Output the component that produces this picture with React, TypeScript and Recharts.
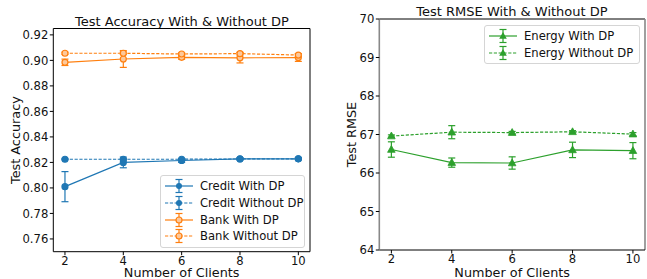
import React from 'react';
import { LineChart, Line, XAxis, YAxis, ErrorBar, Legend, ReferenceLine } from 'recharts';

const clients = [2, 4, 6, 8, 10];

const creditWithDP = [0.801, 0.82, 0.8215, 0.8228, 0.8228];
const creditWithDPErr = [0.0118, 0.0042, 0.0015, 0.0008, 0.0008];
const creditWithoutDP = [0.8225, 0.8225, 0.8225, 0.8227, 0.8228];
const creditWithoutDPErr = [0.0004, 0.0004, 0.0004, 0.0004, 0.0004];
const bankWithDP = [0.8985, 0.9011, 0.9024, 0.902, 0.9022];
const bankWithDPErr = [0.0025, 0.0066, 0.0015, 0.004, 0.003];
const bankWithoutDP = [0.9056, 0.9056, 0.905, 0.9053, 0.9042];
const bankWithoutDPErr = [0.0008, 0.001, 0.001, 0.001, 0.001];

const energyWithDP = [66.61, 66.27, 66.26, 66.6, 66.58];
const energyWithDPErr = [0.2, 0.12, 0.16, 0.2, 0.21];
const energyWithoutDP = [66.96, 67.06, 67.05, 67.07, 67.01];
const energyWithoutDPErr = [0.03, 0.17, 0.03, 0.03, 0.04];

const accTicks = [0.76, 0.78, 0.8, 0.82, 0.84, 0.86, 0.88, 0.9, 0.92];
const rmseTicks = [64, 65, 66, 67, 68, 69, 70];

const accLegend = ['Credit With DP', 'Credit Without DP', 'Bank With DP', 'Bank Without DP'];
const rmseLegend = ['Energy With DP', 'Energy Without DP'];

const X_DOMAIN = [1.6, 10.4];
const ACC_DOMAIN = [0.75, 0.925];
const RMSE_DOMAIN = [64, 70];

const FONT = '"DejaVu Sans", Verdana, sans-serif';
const BLUE = '#1f77b4';
const ORANGE = '#ff7f0e';
const ORANGE_LIGHT = '#fdc89a';
const GREEN = '#2ca02c';
const TXT = '#111';
const DASH = '3.2 1.6';

const accData = clients.map((x, i) => ({
  x,
  cw: creditWithDP[i],
  cwErr: creditWithDPErr[i],
  cwo: creditWithoutDP[i],
  cwoErr: creditWithoutDPErr[i],
  bw: bankWithDP[i],
  bwErr: bankWithDPErr[i],
  bwo: bankWithoutDP[i],
  bwoErr: bankWithoutDPErr[i],
}));

const rmseData = clients.map((x, i) => ({
  x,
  ew: energyWithDP[i],
  ewErr: energyWithDPErr[i],
  ewo: energyWithoutDP[i],
  ewoErr: energyWithoutDPErr[i],
}));

const circleDot = (stroke: string, fill: string, r: number) => (p: any) => {
  const { cx, cy, index } = p;
  if (cx == null || cy == null) return <g key={`d${index}`} />;
  return <circle key={`d${index}`} cx={cx} cy={cy} r={r} fill={fill} stroke={stroke} strokeWidth={1.2} />;
};

const triDot = (color: string) => (p: any) => {
  const { cx, cy, index } = p;
  if (cx == null || cy == null) return <g key={`t${index}`} />;
  const s = 4;
  return (
    <path
      key={`t${index}`}
      d={`M${cx},${cy - s} L${cx + s * 0.95},${cy + s * 0.7} L${cx - s * 0.95},${cy + s * 0.7} Z`}
      fill={color}
      stroke={color}
      strokeWidth={0.8}
    />
  );
};

type Handle = { color: string; dashed: boolean; marker: 'circle' | 'open' | 'tri' };

const HandleIcon = ({ h }: { h: Handle }) => (
  <svg width={28} height={16} style={{ display: 'block', flex: 'none' }}>
    <line x1={0} y1={8} x2={28} y2={8} stroke={h.color} strokeWidth={1.2} strokeDasharray={h.dashed ? DASH : undefined} />
    <line x1={14} y1={1.5} x2={14} y2={14.5} stroke={h.color} strokeWidth={1.2} />
    <line x1={10.5} y1={1.5} x2={17.5} y2={1.5} stroke={h.color} strokeWidth={1.2} />
    <line x1={10.5} y1={14.5} x2={17.5} y2={14.5} stroke={h.color} strokeWidth={1.2} />
    {h.marker === 'circle' && <circle cx={14} cy={8} r={3} fill={h.color} />}
    {h.marker === 'open' && <circle cx={14} cy={8} r={3} fill={ORANGE_LIGHT} stroke={h.color} strokeWidth={1.2} />}
    {h.marker === 'tri' && <path d="M14,4 L17.8,10.8 L10.2,10.8 Z" fill={h.color} />}
  </svg>
);

const makeLegend = (names: string[], handles: Handle[], width: number) => () => (
  <div
    style={{
      width,
      boxSizing: 'border-box',
      border: '1px solid #d5d5d5',
      borderRadius: 3,
      background: 'rgba(255,255,255,0.85)',
      padding: '2px 0 2px 4px',
      fontFamily: FONT,
      fontSize: 11.6,
      color: TXT,
    }}
  >
    {names.map((n, i) => (
      <div key={n} style={{ display: 'flex', alignItems: 'center', height: 16.7 }}>
        <HandleIcon h={handles[i]} />
        <span style={{ marginLeft: 7, whiteSpace: 'nowrap' }}>{n}</span>
      </div>
    ))}
  </div>
);

const accHandles: Handle[] = [
  { color: BLUE, dashed: false, marker: 'circle' },
  { color: BLUE, dashed: true, marker: 'circle' },
  { color: ORANGE, dashed: false, marker: 'open' },
  { color: ORANGE, dashed: true, marker: 'open' },
];
const rmseHandles: Handle[] = [
  { color: GREEN, dashed: false, marker: 'tri' },
  { color: GREEN, dashed: true, marker: 'tri' },
];

const vLabel = (text: string, x: number) => (p: any) => {
  const vb = p.viewBox || {};
  const cy = (vb.y || 0) + (vb.height || 0) / 2;
  return (
    <text
      x={x}
      y={cy}
      transform={`rotate(-90 ${x} ${cy})`}
      textAnchor="middle"
      dominantBaseline="central"
      fill={TXT}
      fontSize={12.8}
      fontFamily={FONT}
    >
      {text}
    </text>
  );
};

const tickStyle = { fill: TXT, fontSize: 11.6, fontFamily: FONT };

const Title = ({ text, cx, top }: { text: string; cx: number; top: number }) => (
  <div
    style={{
      position: 'absolute',
      left: cx - 150,
      width: 300,
      top,
      textAlign: 'center',
      fontFamily: FONT,
      fontSize: 13,
      color: TXT,
      lineHeight: 'normal',
      whiteSpace: 'nowrap',
    }}
  >
    {text}
  </div>
);

const xLabel = { value: 'Number of Clients', position: 'insideBottom', offset: 2, fill: TXT, fontSize: 12.8, fontFamily: FONT };

export default function App() {
  return (
    <div style={{ position: 'absolute', left: 0, top: 0, width: 647, height: 279, background: '#fff', overflow: 'hidden' }}>
      <Title text="Test Accuracy With & Without DP" cx={182} top={14} />
      <Title text="Test RMSE With & Without DP" cx={512} top={3.7} />

      <div style={{ position: 'absolute', left: 0, top: 0 }}>
        <LineChart width={330} height={279} data={accData} margin={{ top: 28.5, right: 20, bottom: 0, left: 0 }}>
          <XAxis
            type="number"
            dataKey="x"
            domain={X_DOMAIN}
            ticks={clients}
            allowDataOverflow
            height={27.3}
            tickSize={3.5}
            tickMargin={1.5}
            stroke="#000"
            tick={tickStyle}
            label={xLabel}
          />
          <YAxis
            type="number"
            domain={ACC_DOMAIN}
            ticks={accTicks}
            allowDataOverflow
            width={53.3}
            tickSize={3.5}
            tickMargin={1.5}
            stroke="#000"
            tick={tickStyle}
            tickFormatter={(v: number) => v.toFixed(2)}
            label={vLabel('Test Accuracy', 15.5)}
          />
          <ReferenceLine y={ACC_DOMAIN[1]} stroke="#000" strokeWidth={1} />
          <ReferenceLine x={X_DOMAIN[1]} stroke="#000" strokeWidth={1} />
          <Line type="linear" dataKey="cw" stroke={BLUE} strokeWidth={1.2} dot={circleDot(BLUE, BLUE, 3)} activeDot={false} isAnimationActive={false}>
            <ErrorBar dataKey="cwErr" width={3.5} stroke={BLUE} strokeWidth={1.2} direction="y" isAnimationActive={false} />
          </Line>
          <Line type="linear" dataKey="cwo" stroke={BLUE} strokeWidth={1.2} strokeDasharray={DASH} dot={circleDot(BLUE, BLUE, 3)} activeDot={false} isAnimationActive={false}>
            <ErrorBar dataKey="cwoErr" width={3.5} stroke={BLUE} strokeWidth={1.2} direction="y" isAnimationActive={false} />
          </Line>
          <Line type="linear" dataKey="bw" stroke={ORANGE} strokeWidth={1.2} dot={circleDot(ORANGE, ORANGE_LIGHT, 3)} activeDot={false} isAnimationActive={false}>
            <ErrorBar dataKey="bwErr" width={3.5} stroke={ORANGE} strokeWidth={1.2} direction="y" isAnimationActive={false} />
          </Line>
          <Line type="linear" dataKey="bwo" stroke={ORANGE} strokeWidth={1.2} strokeDasharray={DASH} dot={circleDot(ORANGE, ORANGE_LIGHT, 3)} activeDot={false} isAnimationActive={false}>
            <ErrorBar dataKey="bwoErr" width={3.5} stroke={ORANGE} strokeWidth={1.2} direction="y" isAnimationActive={false} />
          </Line>
          <Legend
            verticalAlign="middle"
            align="center"
            content={makeLegend(accLegend, accHandles, 145)}
            wrapperStyle={{ left: 160, top: 175, width: 145, height: 71 }}
          />
        </LineChart>
      </div>

      <div style={{ position: 'absolute', left: 330, top: 0 }}>
        <LineChart width={317} height={279} data={rmseData} margin={{ top: 19, right: 2, bottom: 0, left: 0 }}>
          <XAxis
            type="number"
            dataKey="x"
            domain={X_DOMAIN}
            ticks={clients}
            allowDataOverflow
            height={29}
            tickSize={3.5}
            tickMargin={1.5}
            stroke="#000"
            tick={tickStyle}
            label={xLabel}
          />
          <YAxis
            type="number"
            domain={RMSE_DOMAIN}
            ticks={rmseTicks}
            allowDataOverflow
            width={49.3}
            tickSize={3.5}
            tickMargin={1.5}
            stroke="#888"
            axisLine={{ stroke: '#888', strokeWidth: 1.6 }}
            tickLine={{ stroke: '#000' }}
            tick={tickStyle}
            label={vLabel('Test RMSE', 21.5)}
          />
          <ReferenceLine y={RMSE_DOMAIN[1]} stroke="#000" strokeWidth={1} />
          <ReferenceLine x={X_DOMAIN[1]} stroke="#888" strokeWidth={1.6} />
          <Line type="linear" dataKey="ew" stroke={GREEN} strokeWidth={1.2} dot={triDot(GREEN)} activeDot={false} isAnimationActive={false}>
            <ErrorBar dataKey="ewErr" width={3.5} stroke={GREEN} strokeWidth={1.2} direction="y" isAnimationActive={false} />
          </Line>
          <Line type="linear" dataKey="ewo" stroke={GREEN} strokeWidth={1.2} strokeDasharray={DASH} dot={triDot(GREEN)} activeDot={false} isAnimationActive={false}>
            <ErrorBar dataKey="ewoErr" width={3.5} stroke={GREEN} strokeWidth={1.2} direction="y" isAnimationActive={false} />
          </Line>
          <Legend
            verticalAlign="middle"
            align="center"
            content={makeLegend(rmseLegend, rmseHandles, 156)}
            wrapperStyle={{ left: 154, top: 25, width: 156, height: 38 }}
          />
        </LineChart>
      </div>
    </div>
  );
}
